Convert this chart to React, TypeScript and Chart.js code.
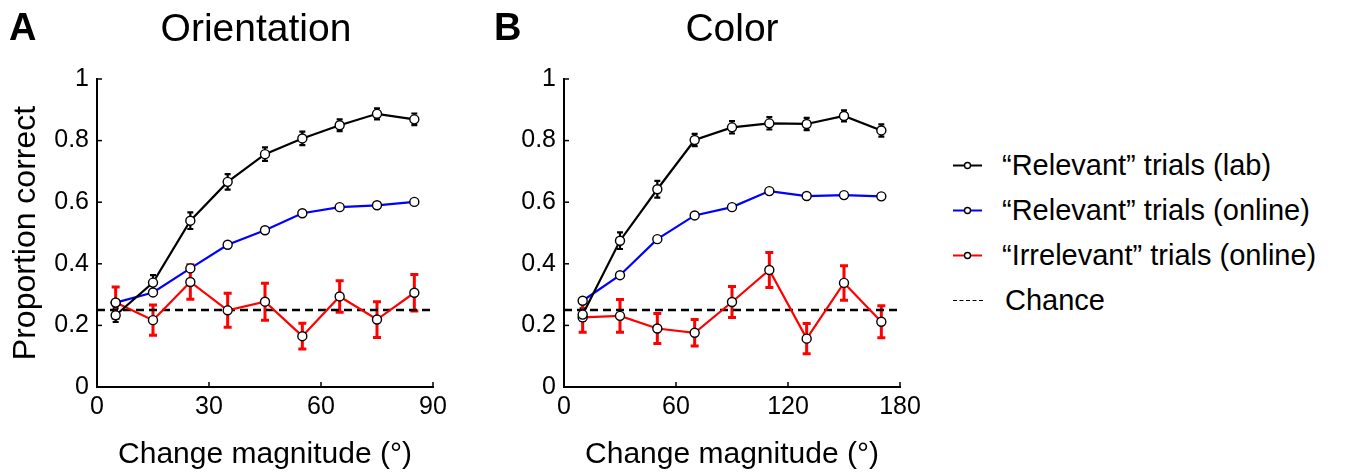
import React, { useEffect, useRef } from "react";
import { Chart, registerables } from "chart.js";

Chart.register(...registerables);

const FONT = "'Liberation Sans', Arial, Helvetica, sans-serif";

// ---------- Data ----------
const orientationX = [5, 15, 25, 35, 45, 55, 65, 75, 85];
const orientationLab = [0.233, 0.339, 0.54, 0.666, 0.756, 0.807, 0.85, 0.887, 0.869];
const orientationLabErr = [0.022, 0.024, 0.027, 0.025, 0.022, 0.022, 0.019, 0.018, 0.019];
const orientationOnline = [0.274, 0.307, 0.385, 0.462, 0.509, 0.564, 0.584, 0.59, 0.601];
const orientationOnlineErr = [0.008, 0.008, 0.008, 0.007, 0.007, 0.007, 0.007, 0.007, 0.007];
const orientationIrrelevant = [0.274, 0.217, 0.341, 0.249, 0.277, 0.165, 0.294, 0.219, 0.306];
const orientationIrrelevantErr = [0.051, 0.049, 0.056, 0.055, 0.06, 0.042, 0.051, 0.058, 0.059];

const colorX = [10, 30, 50, 70, 90, 110, 130, 150, 170];
const colorLab = [0.235, 0.475, 0.642, 0.802, 0.843, 0.856, 0.854, 0.88, 0.833];
const colorLabErr = [0.02, 0.027, 0.027, 0.02, 0.02, 0.02, 0.02, 0.018, 0.02];
const colorOnline = [0.28, 0.363, 0.48, 0.557, 0.584, 0.636, 0.62, 0.623, 0.619];
const colorOnlineErr = [0.008, 0.007, 0.007, 0.007, 0.007, 0.007, 0.007, 0.007, 0.007];
const colorIrrelevant = [0.226, 0.231, 0.19, 0.176, 0.276, 0.38, 0.157, 0.338, 0.212];
const colorIrrelevantErr = [0.048, 0.053, 0.049, 0.043, 0.05, 0.057, 0.049, 0.056, 0.052];

const CHANCE = 0.25;
const yTickLabels = ["0", "0.2", "0.4", "0.6", "0.8", "1"];
const orientationTickLabels = ["0", "30", "60", "90"];
const colorTickLabels = ["0", "60", "120", "180"];
const seriesLabels = [
  "\u201CRelevant\u201D trials (lab)",
  "\u201CRelevant\u201D trials (online)",
  "\u201CIrrelevant\u201D trials (online)",
  "Chance",
];
const seriesColors = ["#000000", "#0000ff", "#ff0000", "#000000"];
const panelTitles = ["Orientation", "Color"];
const panelLetters = ["A", "B"];
const yTitle = "Proportion correct";
const xTitle = "Change magnitude (\u00B0)";

// ---------- Plugins ----------
const errorBarPlugin = {
  id: "errorBars",
  beforeDatasetsDraw(chart: any) {
    const { ctx } = chart;
    const xs = chart.scales.x;
    const ys = chart.scales.y;
    chart.data.datasets.forEach((ds: any) => {
      if (!ds.errors) return;
      ctx.save();
      ctx.strokeStyle = ds.borderColor;
      ctx.lineWidth = ds.errWidth;
      const cap = ds.capHalf;
      ds.data.forEach((p: any, j: number) => {
        const px = xs.getPixelForValue(p.x);
        const t = ys.getPixelForValue(p.y + ds.errors[j]);
        const b = ys.getPixelForValue(p.y - ds.errors[j]);
        ctx.beginPath();
        ctx.moveTo(px, t);
        ctx.lineTo(px, b);
        ctx.moveTo(px - cap, t);
        ctx.lineTo(px + cap, t);
        ctx.moveTo(px - cap, b);
        ctx.lineTo(px + cap, b);
        ctx.stroke();
      });
      ctx.restore();
    });
  },
};

const inwardTicksPlugin = {
  id: "inwardTicks",
  afterDraw(chart: any) {
    const { ctx, chartArea } = chart;
    const xs = chart.scales.x;
    const ys = chart.scales.y;
    ctx.save();
    ctx.strokeStyle = "#000";
    ctx.lineWidth = 1.5;
    ys.ticks.forEach((t: any) => {
      const py = ys.getPixelForValue(t.value);
      ctx.beginPath();
      ctx.moveTo(chartArea.left, py);
      ctx.lineTo(chartArea.left + 5, py);
      ctx.stroke();
    });
    xs.ticks.forEach((t: any) => {
      const px = xs.getPixelForValue(t.value);
      ctx.beginPath();
      ctx.moveTo(px, chartArea.bottom);
      ctx.lineTo(px, chartArea.bottom - 5);
      ctx.stroke();
    });
    ctx.restore();
  },
};

type PanelProps = {
  left: number;
  width: number;
  chartLeft: number;
  chartRight: number;
  xs: number[];
  lab: number[];
  labErr: number[];
  online: number[];
  onlineErr: number[];
  irr: number[];
  irrErr: number[];
  xMax: number;
  xStep: number;
  xTickLabels: string[];
  showYTitle: boolean;
};

const HEIGHT = 474;
const CHART_TOP = 79;
const CHART_BOTTOM = 387;

function Panel(props: PanelProps) {
  const ref = useRef<HTMLCanvasElement | null>(null);
  useEffect(() => {
    if (!ref.current) return;
    const pts = (vals: number[]) => props.xs.map((x, i) => ({ x, y: vals[i] }));
    const lineDs = (label: string, vals: number[], errs: number[], color: string, errWidth: number, capHalf: number) => ({
      label,
      data: pts(vals),
      errors: errs,
      errWidth,
      capHalf,
      borderColor: color,
      backgroundColor: color,
      borderWidth: 2.2,
      pointRadius: 4.5,
      pointBorderWidth: 1.4,
      pointBackgroundColor: "#ffffff",
      pointBorderColor: "#000000",
      tension: 0,
    });
    const chart = new Chart(ref.current, {
      type: "line",
      data: {
        datasets: [
          lineDs(seriesLabels[0], props.lab, props.labErr, seriesColors[0], 2.2, 3),
          lineDs(seriesLabels[1], props.online, props.onlineErr, seriesColors[1], 2, 3.5),
          lineDs(seriesLabels[2], props.irr, props.irrErr, seriesColors[2], 3, 4),
          {
            label: seriesLabels[3],
            data: [
              { x: 0, y: CHANCE },
              { x: props.xMax, y: CHANCE },
            ],
            borderColor: "#000",
            borderWidth: 2.3,
            borderDash: [8, 5],
            pointRadius: 0,
          } as any,
        ],
      },
      options: {
        animation: false,
        responsive: false,
        events: [],
        layout: {
          padding: { left: 0, top: CHART_TOP, right: props.width - props.chartRight, bottom: 0 },
        },
        plugins: {
          legend: { display: false },
          tooltip: { enabled: false },
        },
        scales: {
          x: {
            type: "linear",
            min: 0,
            max: props.xMax,
            grid: { display: false, drawTicks: false },
            border: { display: true, color: "#000", width: 2 },
            ticks: {
              stepSize: props.xStep,
              color: "#000",
              padding: 5,
              maxRotation: 0,
              font: { family: FONT, size: 25 },
              callback: (v: any) => props.xTickLabels[Math.round(Number(v) / props.xStep)] ?? "",
            },
            title: {
              display: true,
              text: xTitle,
              color: "#000",
              font: { family: FONT, size: 30, lineHeight: 1 },
              padding: { top: 0, bottom: 4 },
            },
            afterFit: (s: any) => {
              s.height = HEIGHT - CHART_BOTTOM;
              s.paddingLeft = 0;
              s.paddingRight = 0;
            },
          },
          y: {
            type: "linear",
            min: 0,
            max: 1,
            grid: { display: false, drawTicks: false },
            border: { display: true, color: "#000", width: 2 },
            ticks: {
              stepSize: 0.2,
              color: "#000",
              padding: 8,
              font: { family: FONT, size: 25 },
              callback: (v: any) => yTickLabels[Math.round(Number(v) * 5)] ?? "",
            },
            title: {
              display: props.showYTitle,
              text: yTitle,
              color: "#000",
              font: { family: FONT, size: 32, lineHeight: 1 },
              padding: { top: 10, bottom: 0 },
            },
            afterFit: (s: any) => {
              s.width = props.chartLeft;
              s.paddingTop = 0;
              s.paddingBottom = 0;
            },
          },
        },
      } as any,
      plugins: [errorBarPlugin, inwardTicksPlugin],
    });
    return () => chart.destroy();
  }, []);
  return (
    <canvas
      ref={ref}
      width={props.width}
      height={HEIGHT}
      style={{ position: "absolute", left: props.left, top: 0, width: props.width, height: HEIGHT }}
    />
  );
}

function LegendRow({ idx, top }: { idx: number; top: number }) {
  const isChance = idx === 3;
  return (
    <div style={{ position: "absolute", left: 950, top, height: 29, width: 395 }}>
      <svg width={36} height={29} style={{ position: "absolute", left: 0, top: 0 }}>
        {isChance ? (
          <line x1={3} y1={14.5} x2={33} y2={14.5} stroke="#000" strokeWidth={1.2} strokeDasharray="4 2.5" />
        ) : (
          <>
            <line x1={3} y1={14.5} x2={32} y2={14.5} stroke={seriesColors[idx]} strokeWidth={2} />
            <circle cx={17.5} cy={14.5} r={3} fill="#fff" stroke="#000" strokeWidth={1.4} />
          </>
        )}
      </svg>
      <div
        style={{
          position: "absolute",
          left: isChance ? 55 : 52,
          top: 0,
          fontFamily: FONT,
          fontSize: 29,
          lineHeight: "29px",
          whiteSpace: "nowrap",
          color: "#000",
        }}
      >
        {seriesLabels[idx]}
      </div>
    </div>
  );
}

export default function App() {
  useEffect(() => {
    document.body.style.margin = "0";
  }, []);
  const titleStyle = (center: number): React.CSSProperties => ({
    position: "absolute",
    left: center - 200,
    width: 400,
    top: 8,
    textAlign: "center",
    fontFamily: FONT,
    fontSize: 39,
    lineHeight: "39px",
    color: "#000",
    whiteSpace: "nowrap",
  });
  const letterStyle = (left: number): React.CSSProperties => ({
    position: "absolute",
    left,
    top: 8,
    fontFamily: FONT,
    fontWeight: "bold",
    fontSize: 38,
    lineHeight: "38px",
    color: "#000",
  });
  return (
    <div style={{ position: "absolute", left: 0, top: 0, width: 1345, height: 474, background: "#fff", overflow: "hidden" }}>
      <Panel
        left={0}
        width={470}
        chartLeft={97}
        chartRight={433}
        xs={orientationX}
        lab={orientationLab}
        labErr={orientationLabErr}
        online={orientationOnline}
        onlineErr={orientationOnlineErr}
        irr={orientationIrrelevant}
        irrErr={orientationIrrelevantErr}
        xMax={90}
        xStep={30}
        xTickLabels={orientationTickLabels}
        showYTitle={true}
      />
      <Panel
        left={470}
        width={460}
        chartLeft={94}
        chartRight={430}
        xs={colorX}
        lab={colorLab}
        labErr={colorLabErr}
        online={colorOnline}
        onlineErr={colorOnlineErr}
        irr={colorIrrelevant}
        irrErr={colorIrrelevantErr}
        xMax={180}
        xStep={60}
        xTickLabels={colorTickLabels}
        showYTitle={false}
      />
      <div style={letterStyle(9)}>{panelLetters[0]}</div>
      <div style={titleStyle(256)}>{panelTitles[0]}</div>
      <div style={letterStyle(494)}>{panelLetters[1]}</div>
      <div style={titleStyle(732)}>{panelTitles[1]}</div>
      {[0, 1, 2, 3].map((i) => (
        <LegendRow key={i} idx={i} top={151 + i * 45} />
      ))}
    </div>
  );
}
